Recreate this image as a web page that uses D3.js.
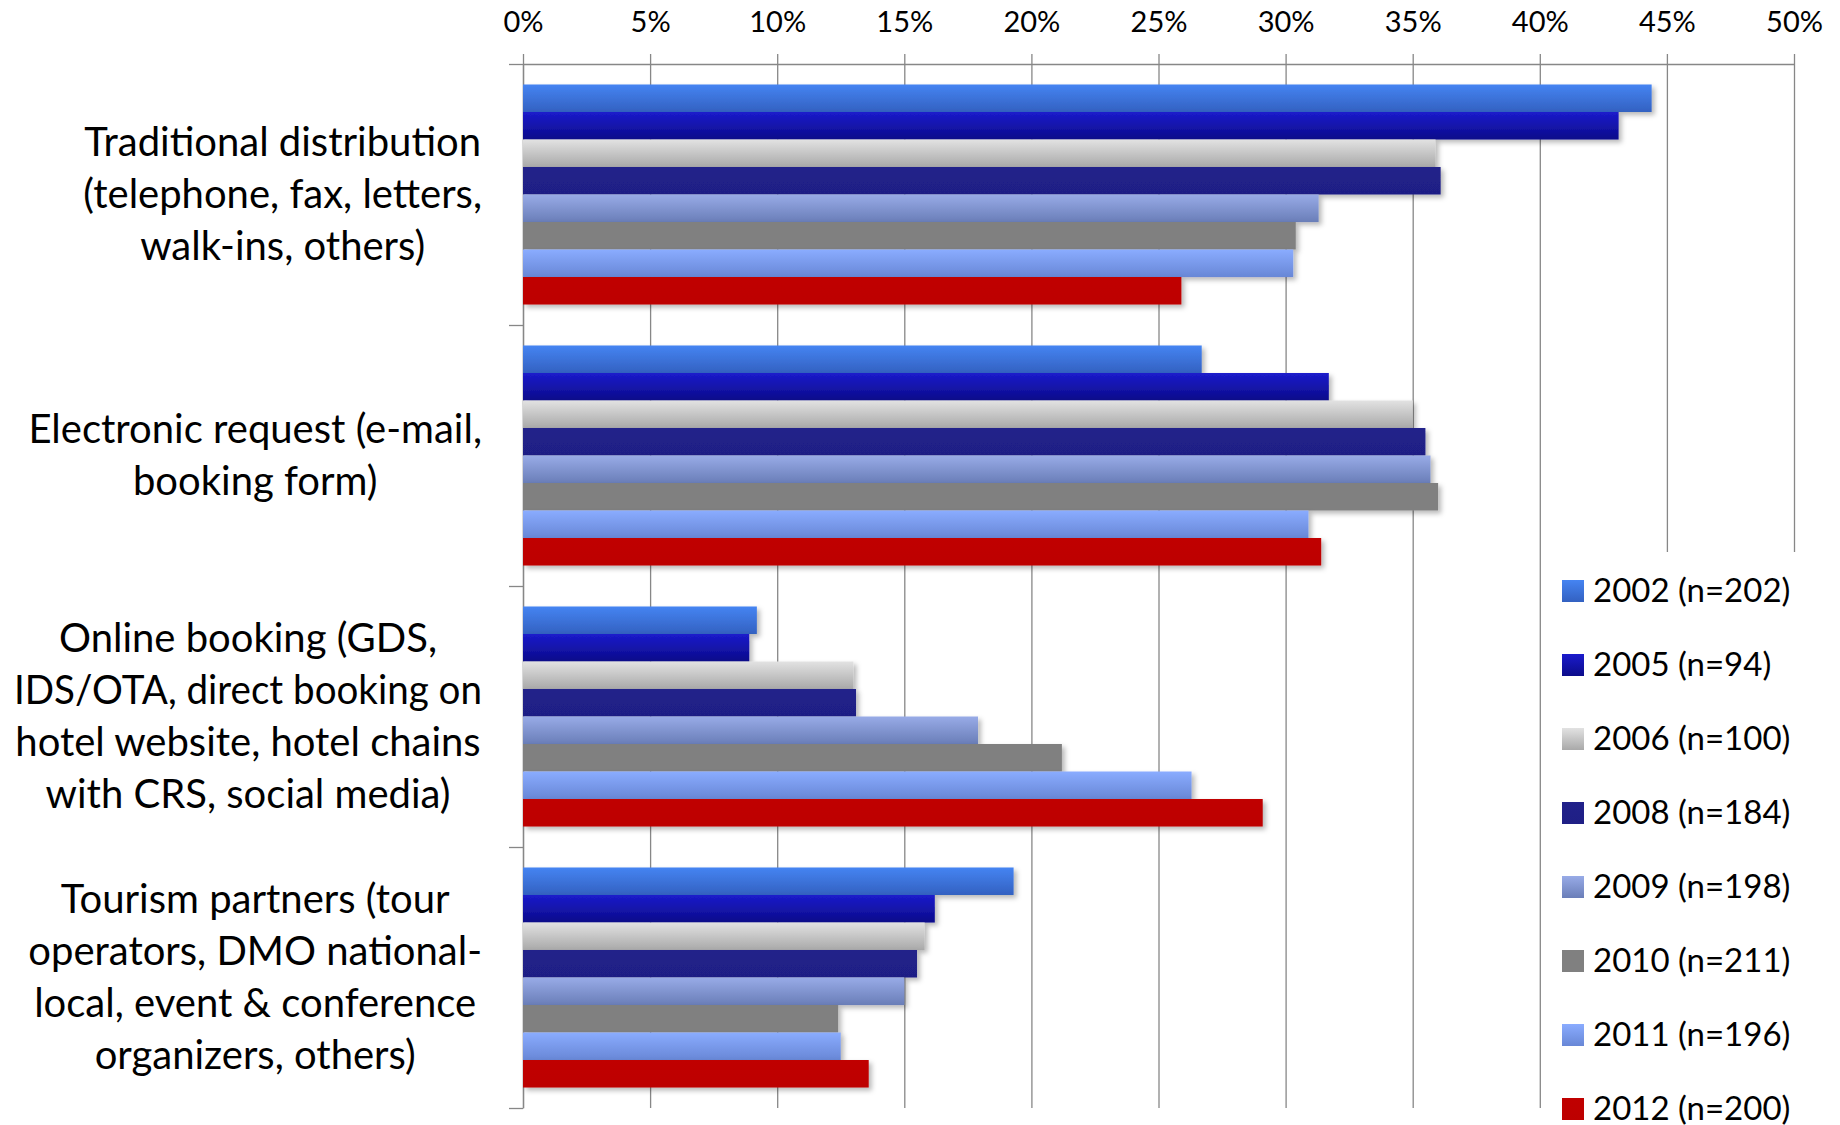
<!DOCTYPE html>
<html>
<head>
<meta charset="utf-8">
<script src="https://cdn.jsdelivr.net/npm/d3@7"></script>
<style>
  body { margin: 0; background: #fff; }
  svg { display: block; font-family: Lato, sans-serif; }
</style>
</head>
<body>
<div id="chart"></div>
<script>
// category labels, already wrapped the way the original chart wraps them
const categories = [
  ["Traditional distribution", "(telephone, fax, letters,", "walk-ins, others)"],
  ["Electronic request (e-mail,", "booking form)"],
  ["Online booking (GDS,", "IDS/OTA, direct booking on", "hotel website, hotel chains", "with CRS, social media)"],
  ["Tourism partners (tour", "operators, DMO national-", "local, event & conference", "organizers, others)"]
]

const years = ["2002", "2005", "2006", "2008", "2009", "2010", "2011", "2012"]
const sampleSizes = [202, 94, 100, 184, 198, 211, 196, 200]

// share of bookings in %, one value per category
const v2002 = [44.4, 26.7, 9.2, 19.3]
const v2005 = [43.1, 31.7, 8.9, 16.2]
const v2006 = [35.9, 35.0, 13.0, 15.8]
const v2008 = [36.1, 35.5, 13.1, 15.5]
const v2009 = [31.3, 35.7, 17.9, 15.0]
const v2010 = [30.4, 36.0, 21.2, 12.4]
const v2011 = [30.3, 30.9, 26.3, 12.5]
const v2012 = [25.9, 31.4, 29.1, 13.6]

const xTicks = [0, 5, 10, 15, 20, 25, 30, 35, 40, 45, 50]

const topColors    = ["#4584f2", "#1b1bcc", "#e2e2e2", "#21218a", "#98abe7", "#808080", "#8aacff", "#c00000"]
const bottomColors = ["#3361c1", "#0c0c8a", "#a9a9a9", "#1f1f85", "#6a7eb8", "#808080", "#6887d6", "#bd0000"]

const seriesValues = [v2002, v2005, v2006, v2008, v2009, v2010, v2011, v2012]
const series = years.map((yr, i) => ({
  year: yr,
  label: yr + " (n=" + sampleSizes[i] + ")",
  values: seriesValues[i],
  idx: i
}))

const W = 1840, H = 1125
const margin = {top: 64, right: 46, bottom: 17, left: 523},
  width = W - margin.left - margin.right,
  height = H - margin.top - margin.bottom

const svg = d3.select("#chart").append("svg")
    .attr("width", W)
    .attr("height", H)

const defs = svg.append("defs")

series.forEach(s => {
  const grad = defs.append("linearGradient")
      .attr("id", "grad" + s.idx)
      .attr("x1", 0).attr("y1", 0)
      .attr("x2", 0).attr("y2", 1)
  grad.append("stop").attr("offset", "0%").attr("stop-color", topColors[s.idx])
  grad.append("stop").attr("offset", "100%").attr("stop-color", bottomColors[s.idx])
})

defs.append("filter")
    .attr("id", "shadow")
    .attr("x", "-5%").attr("y", "-30%")
    .attr("width", "130%").attr("height", "180%")
  .append("feDropShadow")
    .attr("dx", 3).attr("dy", 3)
    .attr("stdDeviation", 2.5)
    .attr("flood-color", "#000")
    .attr("flood-opacity", 0.28)

const g = svg.append("g")
    .attr("transform", "translate(" + margin.left + "," + margin.top + ")")

const x = d3.scaleLinear()
    .domain([0, 50])
    .range([0, width])

const y = d3.scaleBand()
    .domain(d3.range(categories.length))
    .range([0, height])
    .paddingInner(0.157)
    .paddingOuter(0.157 / 2)

const ySub = d3.scaleBand()
    .domain(years)
    .range([0, y.bandwidth()])

// boundaries between the categories, for the left axis ticks
const yEdge = d3.scaleLinear()
    .domain([0, categories.length])
    .range([0, height])

// top axis + vertical grid
const xAxis = g.append("g")
    .attr("class", "axis axis--x")
    .call(d3.axisTop(x)
      .tickValues(xTicks)
      .tickSize(10)
      .tickSizeOuter(0)
      .tickPadding(22)
      .tickFormat(d => d + "%"))

xAxis.selectAll(".tick line")
    .attr("y1", height)
    .attr("stroke", "#878787")
    .attr("stroke-width", 1.3)
xAxis.select(".domain")
    .attr("stroke", "#878787")
    .attr("stroke-width", 1.3)
xAxis.selectAll("text")
    .attr("fill", "#000")
    .style("font-family", "Lato, sans-serif")
    .style("font-size", "29px")

// left axis, ticks only between categories
const yAxis = g.append("g")
    .attr("class", "axis axis--y")
    .call(d3.axisLeft(yEdge)
      .tickValues(d3.range(categories.length + 1))
      .tickSize(14)
      .tickSizeOuter(0)
      .tickFormat(""))
yAxis.selectAll("line, path")
    .attr("stroke", "#878787")
    .attr("stroke-width", 1.3)

// bars, drawn top to bottom so each one covers the shadow of the one above
categories.forEach((cat, ci) => {
  const group = g.append("g")
      .attr("transform", "translate(0," + y(ci) + ")")
  group.selectAll("rect")
    .data(series)
    .join("rect")
      .attr("x", x(0))
      .attr("y", d => ySub(d.year))
      .attr("width", d => x(d.values[ci]) - x(0))
      .attr("height", ySub.bandwidth())
      .attr("fill", d => "url(#grad" + d.idx + ")")
      .attr("filter", "url(#shadow)")
})

// category labels: lines centred inside a block that is right aligned to the axis
const labelRight = 482
const lineHeight = 52
const maxLineW = 468
categories.forEach((lines, ci) => {
  const cy = margin.top + yEdge(ci + 0.5)
  const texts = svg.append("g")
      .attr("class", "cat-label")
    .selectAll("text")
    .data(lines)
    .join("text")
      .attr("y", (d, j) => cy + (j - (lines.length - 1) / 2) * lineHeight + 13)
      .attr("text-anchor", "middle")
      .attr("fill", "#000")
      .style("font-size", "40px")
      .text(d => d)
  // squeeze the odd line that would run past the left edge
  texts.each(function () {
    if (this.getComputedTextLength() > maxLineW) {
      d3.select(this)
        .attr("textLength", maxLineW)
        .attr("lengthAdjust", "spacingAndGlyphs")
    }
  })
  const blockW = d3.max(texts.nodes(), n => Math.min(maxLineW, n.getComputedTextLength()))
  texts.attr("x", labelRight - blockW / 2)
})

// legend, on a white box that hides the right-hand grid lines
const legend = svg.append("g")
    .attr("class", "legend")
    .attr("transform", "translate(1562,591)")

legend.append("rect")
    .attr("x", -14)
    .attr("y", -39)
    .attr("width", W - 1548)
    .attr("height", H - 552)
    .attr("fill", "#fff")

const item = legend.selectAll("g")
  .data(series)
  .join("g")
    .attr("transform", (d, i) => "translate(0," + i * 74 + ")")

item.append("rect")
    .attr("x", 0)
    .attr("y", -11)
    .attr("width", 22)
    .attr("height", 22)
    .attr("fill", d => "url(#grad" + d.idx + ")")

item.append("text")
    .attr("x", 31)
    .attr("y", 11)
    .attr("fill", "#000")
    .style("font-size", "33px")
    .text(d => d.label)
</script>
</body>
</html>
